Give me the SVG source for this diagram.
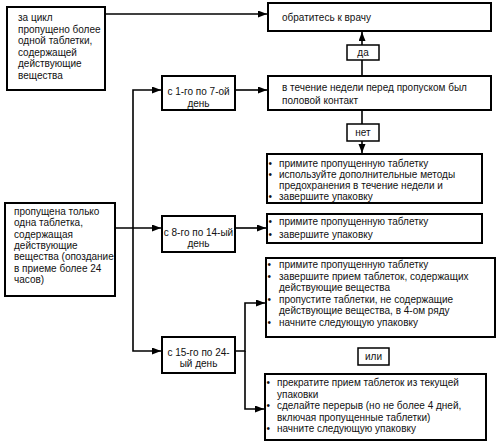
<svg xmlns="http://www.w3.org/2000/svg" width="500" height="446" viewBox="0 0 500 446">
<style>
.box{fill:#fff;stroke:#000;stroke-width:2}
.lbl{fill:#fff;stroke:#000;stroke-width:1.5}
.t{font-family:"Liberation Sans",Arial,sans-serif;font-size:10px;fill:#111}
.c{text-anchor:middle}
.ln{fill:none;stroke:#000;stroke-width:1.6}
</style>
<defs>
<marker id="ah" markerUnits="userSpaceOnUse" markerWidth="10" markerHeight="8" refX="9" refY="3.5" orient="auto">
<path d="M0,0 L9,3.5 L0,7 z" fill="#000"/>
</marker>
</defs>
<g id="connectors">
<path class="ln" d="M105,14 H267" marker-end="url(#ah)"/>
<path class="ln" d="M115,228 H161" marker-end="url(#ah)"/>
<path class="ln" d="M133,228 V90 H161" marker-end="url(#ah)"/>
<path class="ln" d="M133,228 V351 H161" marker-end="url(#ah)"/>
<path class="ln" d="M235,90 H267" marker-end="url(#ah)"/>
<path class="ln" d="M362,76 V32" marker-end="url(#ah)"/>
<path class="ln" d="M362,110 V153" marker-end="url(#ah)"/>
<path class="ln" d="M235,228 H266" marker-end="url(#ah)"/>
<path class="ln" d="M235,351 H245 V303 H265" marker-end="url(#ah)"/>
<path class="ln" d="M245,351 V409 H264" marker-end="url(#ah)"/>
</g>
<g id="n-more">
<rect class="box" x="7" y="7" width="98" height="83"/>
<text class="t" x="18" y="21">за цикл</text>
<text class="t" x="18" y="32.6">пропущено более</text>
<text class="t" x="18" y="44.2">одной таблетки,</text>
<text class="t" x="18" y="55.8">содержащей</text>
<text class="t" x="18" y="67.4">действующие</text>
<text class="t" x="18" y="79">вещества</text>
</g>
<g id="n-one">
<rect class="box" x="5" y="203" width="110" height="93"/>
<text class="t" x="14" y="215">пропущена только</text>
<text class="t" x="14" y="226.3">одна таблетка,</text>
<text class="t" x="14" y="237.6">содержащая</text>
<text class="t" x="14" y="248.9">действующие</text>
<text class="t" x="14" y="260.2">вещества (опоздание</text>
<text class="t" x="14" y="271.5">в приеме более 24</text>
<text class="t" x="14" y="282.8">часов)</text>
</g>
<g id="n-d1">
<rect class="box" x="162" y="76" width="73" height="34"/>
<text class="t c" x="198.5" y="95">с 1-го по 7-ой</text>
<text class="t c" x="198.5" y="107">день</text>
</g>
<g id="n-d8">
<rect class="box" x="162" y="216" width="73" height="36"/>
<text class="t c" x="198.5" y="236">с 8-го по 14-ый</text>
<text class="t c" x="198.5" y="247">день</text>
</g>
<g id="n-d15">
<rect class="box" x="162" y="337" width="73" height="36"/>
<text class="t c" x="198.5" y="356">с 15-го по 24-</text>
<text class="t c" x="198.5" y="367">ый день</text>
</g>
<g id="n-doctor">
<rect class="box" x="268" y="3" width="223" height="28"/>
<text class="t" x="282" y="21">обратитесь к врачу</text>
</g>
<g id="n-yes">
<rect class="lbl" x="347" y="45" width="32" height="15"/>
<text class="t c" x="363" y="56">да</text>
</g>
<g id="n-contact">
<rect class="box" x="268" y="76" width="223" height="34"/>
<text class="t" x="282" y="91">в течение недели перед пропуском был</text>
<text class="t" x="282" y="104">половой контакт</text>
</g>
<g id="n-no">
<rect class="lbl" x="347" y="124" width="32" height="17"/>
<text class="t c" x="363" y="136">нет</text>
</g>
<g id="n-act1">
<rect class="box" x="267" y="154" width="215" height="49"/>
<text class="t" x="268.5" y="167">•</text>
<text class="t" x="279" y="167">примите пропущенную таблетку</text>
<text class="t" x="268.5" y="178">•</text>
<text class="t" x="279" y="178">используйте дополнительные методы</text>
<text class="t" x="279" y="189">предохранения в течение недели и</text>
<text class="t" x="268.5" y="200">•</text>
<text class="t" x="279" y="200">завершите упаковку</text>
</g>
<g id="n-act2">
<rect class="box" x="267" y="214" width="215" height="29"/>
<text class="t" x="268.5" y="225">•</text>
<text class="t" x="279" y="225">примите пропущенную таблетку</text>
<text class="t" x="268.5" y="238">•</text>
<text class="t" x="279" y="238">завершите упаковку</text>
</g>
<g id="n-act3">
<rect class="box" x="266" y="258" width="229" height="79"/>
<text class="t" x="267.5" y="268">•</text>
<text class="t" x="279" y="268">примите пропущенную таблетку</text>
<text class="t" x="267.5" y="279.6">•</text>
<text class="t" x="279" y="279.6">завершите прием таблеток, содержащих</text>
<text class="t" x="279" y="291.2">действующие вещества</text>
<text class="t" x="267.5" y="302.8">•</text>
<text class="t" x="279" y="302.8">пропустите таблетки, не содержащие</text>
<text class="t" x="279" y="314.4">действующие вещества, в 4-ом ряду</text>
<text class="t" x="267.5" y="326">•</text>
<text class="t" x="279" y="326">начните следующую упаковку</text>
</g>
<g id="n-or">
<rect class="lbl" x="358" y="348" width="31" height="17"/>
<text class="t c" x="373.5" y="360">или</text>
</g>
<g id="n-act4">
<rect class="box" x="265" y="374" width="221" height="66"/>
<text class="t" x="266.5" y="386">•</text>
<text class="t" x="277" y="386">прекратите прием таблеток из текущей</text>
<text class="t" x="277" y="397.5">упаковки</text>
<text class="t" x="266.5" y="409">•</text>
<text class="t" x="277" y="409">сделайте перерыв (но не более 4 дней,</text>
<text class="t" x="277" y="420.5">включая пропущенные таблетки)</text>
<text class="t" x="266.5" y="432">•</text>
<text class="t" x="277" y="432">начните следующую упаковку</text>
</g>
</svg>
